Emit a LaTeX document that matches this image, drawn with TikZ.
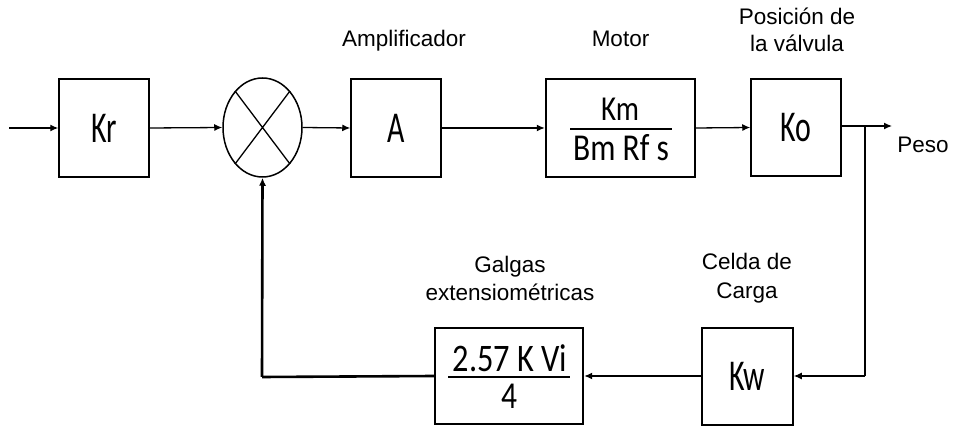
\documentclass[tikz,border=0pt]{standalone}
\usepackage{fontspec}
\setmainfont{Liberation Sans}
\newfontfamily\boxfont[FakeStretch=0.68]{Carlito}
\newfontfamily\fracfont[FakeStretch=0.83]{Carlito}
\usetikzlibrary{arrows.meta,shapes.geometric}
\begin{document}
\begin{tikzpicture}[x=1pt,y=-1pt,
  thinln/.style={line width=1.3pt},
  thickln/.style={line width=2.6pt},
  arr/.style={-{Latex[length=8pt,width=7pt]}},
  blk/.style={draw,line width=1.5pt,inner sep=0pt,font=\boxfont\fontsize{44}{46}\selectfont},
  blkthick/.style={blk,line width=2.4pt},
  lbl/.style={anchor=base,inner sep=0pt,font=\fontsize{22.5}{27}\selectfont},
  txt/.style={anchor=base,inner sep=0pt,font=\fracfont\fontsize{38}{40}\selectfont}]
\useasboundingbox (0,0) rectangle (953,427);
% blocks
\node[blk,minimum width=90pt,minimum height=98pt] (kr) at (104,128) {Kr};
\node[draw,line width=1.5pt,ellipse,inner sep=0pt,minimum width=79pt,minimum height=99pt] (sum) at (262.5,127.5) {};
\draw[line width=1.3pt] (sum.127) -- (sum.-53) (sum.53) -- (sum.-127);
\node[blk,minimum width=90pt,minimum height=98pt] (amp) at (396,128) {A};
\node[blkthick,minimum width=149pt,minimum height=98pt] (mot) at (620.5,128) {};
\node[txt,font=\fracfont\fontsize{35}{37}\selectfont] (km) at (620,120.5) {Km};
\node[txt] (bm) at (621,160.5) {Bm Rf s};
\draw[line width=1.6pt] (570,129.3) -- (672,129.3);
\node[blk,minimum width=90pt,minimum height=97pt] (ko) at (796,127.5) {Ko};
\node[blk,minimum width=91pt,minimum height=97pt] (kw) at (747.5,376.5) {Kw};
\node[blkthick,minimum width=148pt,minimum height=96pt] (gal) at (509,376) {};
\node[txt,font=\fracfont\fontsize{39}{41}\selectfont] (num) at (510,371.5) {2.57 K Vi};
\node[txt,font=\fracfont\fontsize{38}{40}\selectfont] (den) at (509,408) {4};
\draw[line width=1.6pt] (448,377.3) -- (570,377.3);
% labels
\node[lbl] (l1) at (404,47) {Amplificador};
\node[lbl] (l2) at (620.5,47) {Motor};
\node[lbl] (l3a) at (797,25) {Posición de};
\node[lbl] (l3b) at (797,52) {la válvula};
\node[lbl] (l4) at (923,153) {Peso};
\node[lbl] (l5a) at (510,273) {Galgas};
\node[lbl] (l5b) at (510,301) {extensiométricas};
\node[lbl] (l6a) at (747,270) {Celda de};
\node[lbl] (l6b) at (747,299) {Carga};
% connectors
\coordinate (in) at (9,128);
\coordinate (out) at (892,126);
\coordinate (br) at (865,126);
\coordinate (cr) at (865,376);
\coordinate (cl) at (262,377);
\draw[thinln,arr] (in) -- (kr.west);
\draw[thinln,arr] (kr.east) -- (sum.west);
\draw[thinln,arr] (sum.east) -- (amp.west);
\draw[thinln,arr] (amp.east) -- (mot.west);
\draw[thinln,arr] (mot.east) -- (ko.west);
\draw[thinln,arr] (ko.east |- out) -- (out);
\draw[thickln] (br) -- (cr);
\draw[thinln,arr] (cr) -- (kw.east |- cr);
\draw[thinln,arr] (kw.west |- gal.east) -- (gal.east);
\draw[thickln] (gal.west) -- (cl);
\draw[thickln,arr] (cl) -- (sum.south);
\end{tikzpicture}
\end{document}
